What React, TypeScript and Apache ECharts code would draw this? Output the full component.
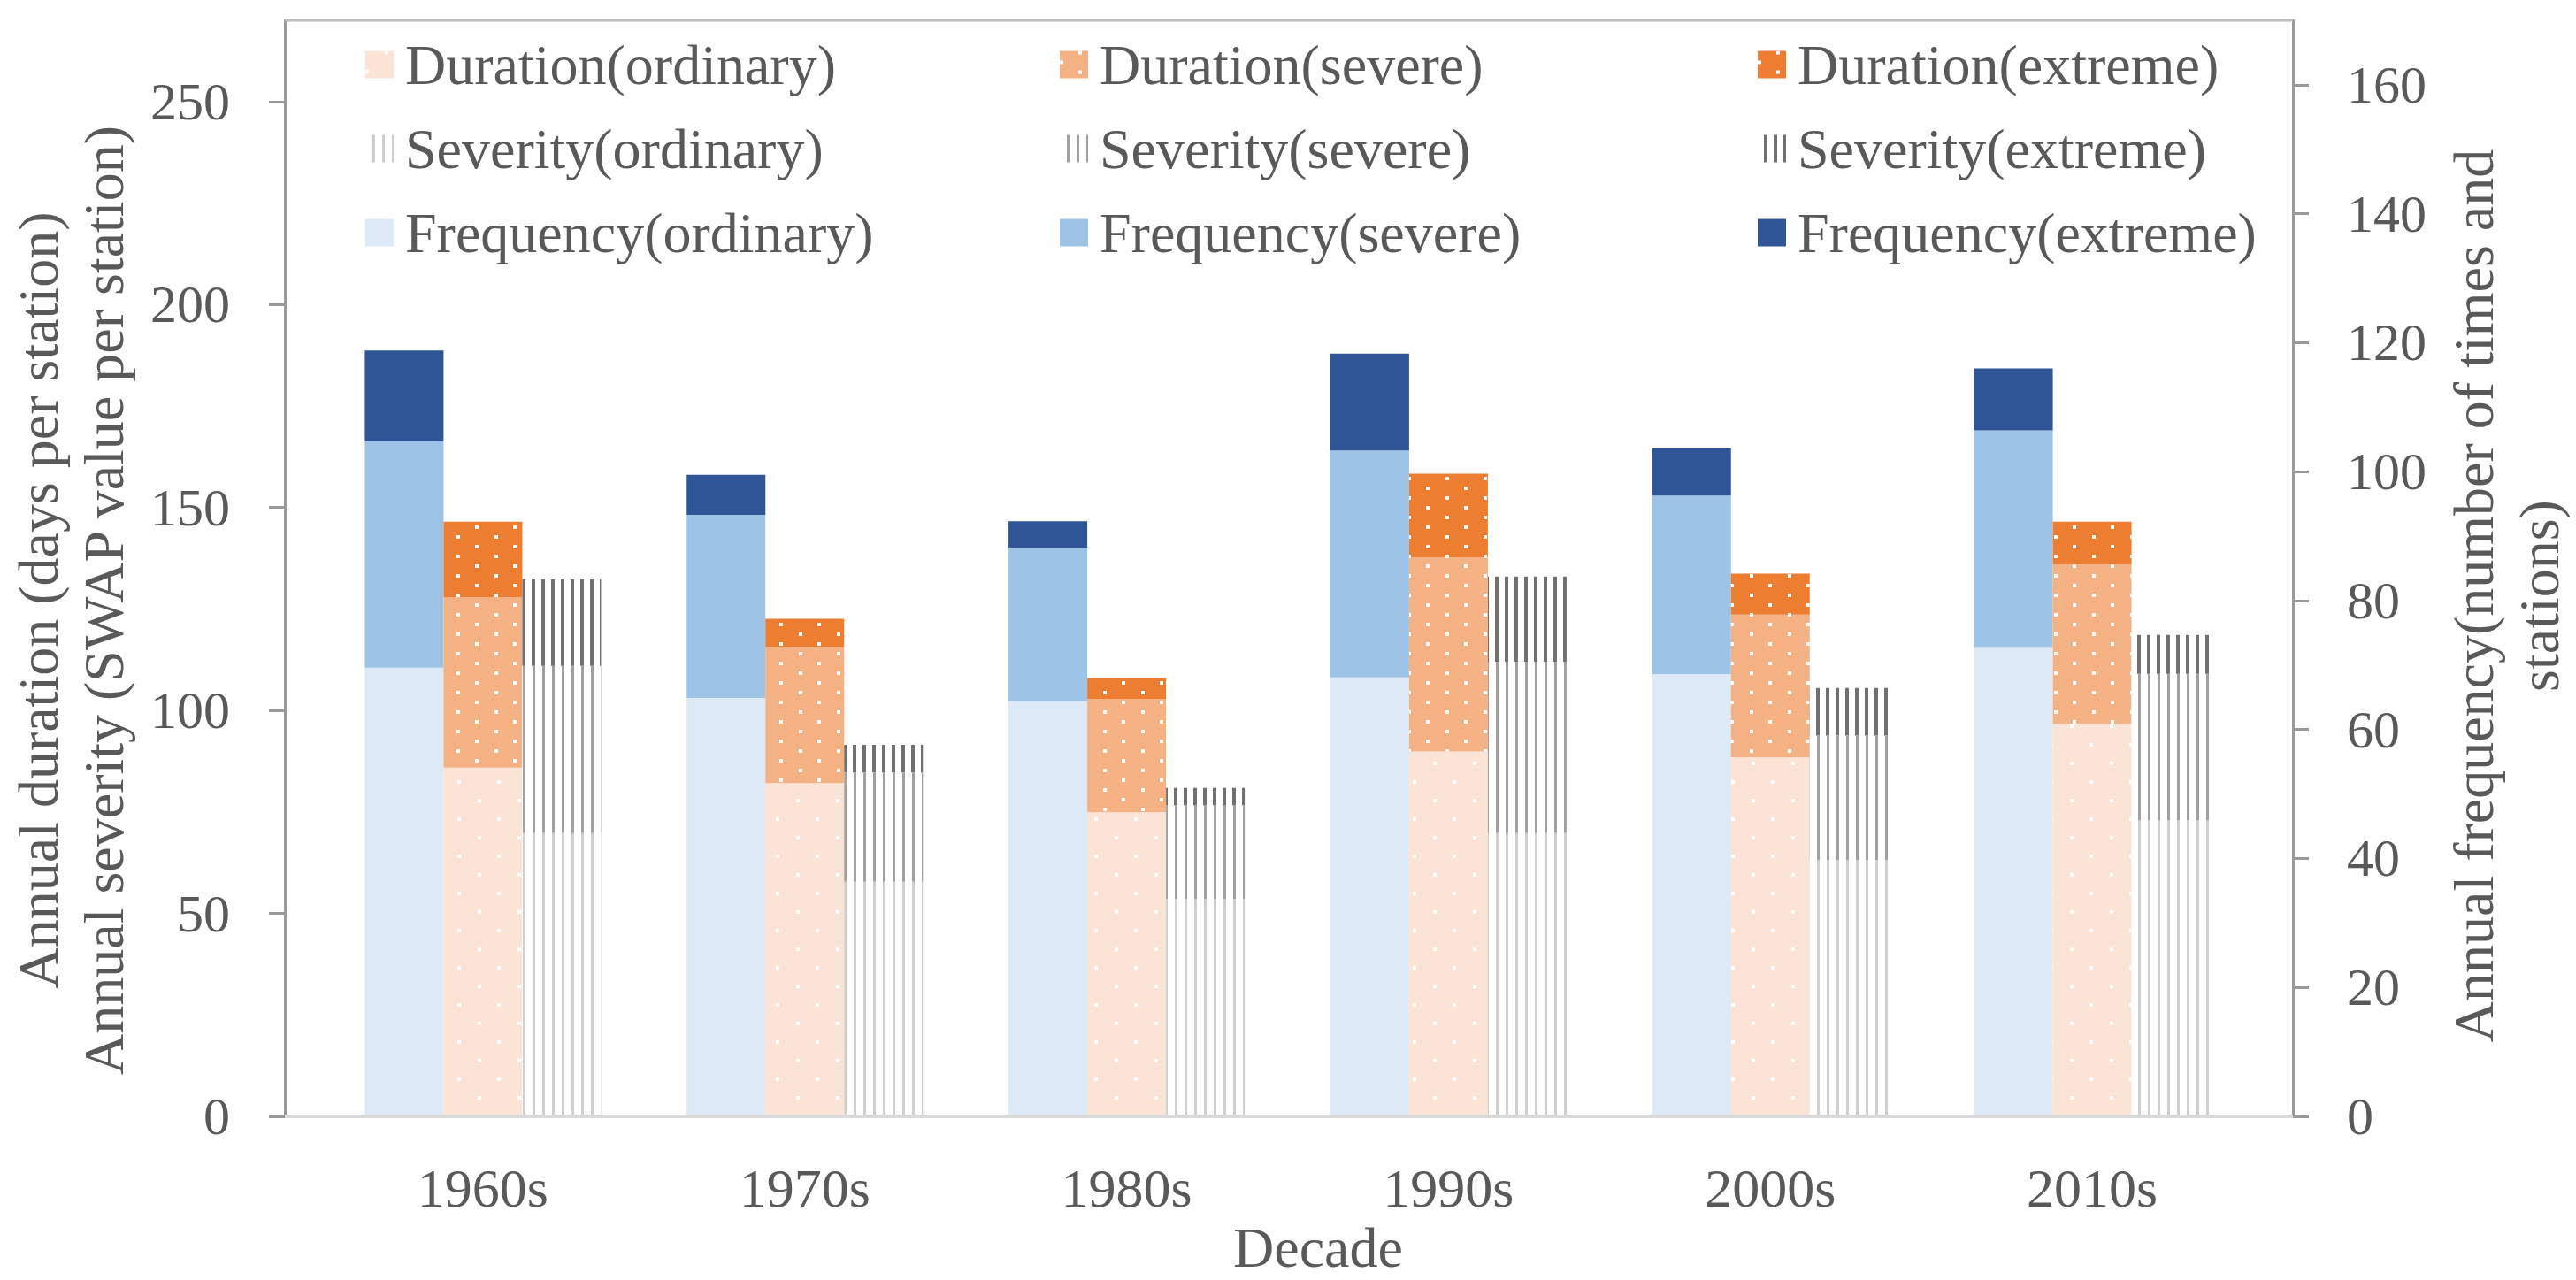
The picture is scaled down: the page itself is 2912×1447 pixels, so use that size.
import React, { useEffect, useRef } from 'react';
import * as echarts from 'echarts';

// ---- data ----
const decades = ['1960s', '1970s', '1980s', '1990s', '2000s', '2010s'];

// Frequency (right axis) – stacked segments
const freqOrdinary = [69.6, 64.9, 64.4, 68.1, 68.6, 72.8];
const freqSevere = [35.1, 28.4, 23.8, 35.2, 27.7, 33.6];
const freqExtreme = [14.1, 6.2, 4.1, 15.0, 7.3, 9.6];

// Duration (left axis) – stacked segments
const durOrdinary = [85.9, 82.1, 74.9, 89.9, 88.4, 96.7];
const durSevere = [42.0, 33.6, 27.9, 47.8, 35.2, 39.2];
const durExtreme = [18.6, 6.9, 5.2, 20.6, 10.1, 10.6];

// Severity (left axis) – stacked segments
const sevOrdinary = [69.8, 57.8, 53.5, 69.8, 63.1, 72.9];
const sevSevere = [41.2, 26.9, 23.1, 42.2, 30.7, 36.1];
const sevExtreme = [21.3, 6.8, 4.3, 21.0, 11.7, 9.6];

const leftTicks = [0, 50, 100, 150, 200, 250];
const rightTicks = [0, 20, 40, 60, 80, 100, 120, 140, 160];

const FONT = "'Liberation Serif', 'DejaVu Serif', serif";
const TXT = '#595959';
const AXIS = '#9a9a9a';

// sparse dots (ordinary) and denser dots (severe / extreme)
const sparseDots = {
  symbol: 'rect',
  symbolSize: 1,
  symbolKeepAspect: false,
  color: '#ffffff',
  dashArrayX: [[4, 41], [0, 22, 4, 19]],
  dashArrayY: [4, 17],
};
const denseDots = {
  symbol: 'rect',
  symbolSize: 1,
  symbolKeepAspect: false,
  color: '#ffffff',
  dashArrayX: [[4, 39], [0, 21, 4, 18]],
  dashArrayY: [4, 7],
};

const lineDecal = (c: string, w: number) => ({
  symbol: 'rect',
  symbolSize: 1,
  symbolKeepAspect: false,
  color: c,
  dashArrayX: [1, 0],
  dashArrayY: [w, 11 - w],
  rotation: Math.PI / 2,
});

function bar(name: string, data: number[], stack: string, yAxisIndex: number, color: string, decal?: any) {
  return {
    name,
    type: 'bar',
    data,
    stack,
    yAxisIndex,
    barWidth: 89,
    barGap: '0%',
    itemStyle: decal ? { color, decal } : { color },
    emphasis: { disabled: true },
  };
}

export default function App() {
  const ref = useRef<HTMLDivElement>(null);

  useEffect(() => {
    if (!ref.current) return;
    const chart = echarts.init(ref.current, undefined, { renderer: 'svg' });

    const legendBase: any = {
      orient: 'vertical',
      top: 41,
      padding: 0,
      itemWidth: 32,
      itemHeight: 31,
      itemGap: 31,
      icon: 'rect',
      selectedMode: false,
      textStyle: { fontFamily: FONT, fontSize: 64, color: TXT, lineHeight: 64, padding: [0, 0, 0, 8] },
    };

    const option: any = {
      animation: false,
      backgroundColor: '#ffffff',
      grid: { left: 364, right: 365, top: 23, bottom: 185, containLabel: false, outerBoundsMode: 'none' },
      legend: [
        { ...legendBase, left: 413, data: ['Duration(ordinary)', 'Severity(ordinary)', 'Frequency(ordinary)'] },
        { ...legendBase, left: 1198, data: ['Duration(severe)', 'Severity(severe)', 'Frequency(severe)'] },
        { ...legendBase, left: 1987, data: ['Duration(extreme)', 'Severity(extreme)', 'Frequency(extreme)'] },
      ],
      xAxis: {
        type: 'category',
        data: decades,
        axisLine: { show: false },
        axisTick: { show: false },
        axisLabel: { fontFamily: FONT, fontSize: 62, color: TXT, margin: 50 },
        name: 'Decade',
        nameLocation: 'middle',
        nameGap: 115,
        nameTextStyle: { fontFamily: FONT, fontSize: 64, color: TXT, padding: [0, 0, 0, 69] },
      },
      yAxis: [
        {
          type: 'value',
          position: 'left',
          min: 0,
          max: 270,
          interval: 50,
          offset: 42,
          splitLine: { show: false },
          axisLine: { show: true, lineStyle: { color: AXIS, width: 3 } },
          axisTick: { show: true, length: 18, customValues: leftTicks, lineStyle: { color: AXIS, width: 3 } },
          axisLabel: { customValues: leftTicks, fontFamily: FONT, fontSize: 60, color: TXT, margin: 62 },
          name: 'Annual duration (days per station)\nAnnual severity (SWAP value per station)',
          nameLocation: 'middle',
          nameRotate: 90,
          nameGap: 168,
          nameTextStyle: { fontFamily: FONT, fontSize: 64, color: TXT, lineHeight: 74, padding: [0, 72, 0, 0] },
        },
        {
          type: 'value',
          position: 'right',
          min: 0,
          max: 170,
          interval: 20,
          offset: 45,
          splitLine: { show: false },
          axisLine: { show: true, lineStyle: { color: AXIS, width: 3 } },
          axisTick: { show: true, length: 18, customValues: rightTicks, lineStyle: { color: AXIS, width: 3 } },
          axisLabel: { customValues: rightTicks, fontFamily: FONT, fontSize: 60, color: TXT, margin: 61 },
          name: 'Annual frequency(number of times and\nstations)',
          nameLocation: 'middle',
          nameRotate: 90,
          nameGap: 167,
          nameTextStyle: { fontFamily: FONT, fontSize: 64, color: TXT, lineHeight: 74, align: 'center', padding: [0, 62, 0, 0] },
        },
      ],
      graphic: [
        { type: 'line', z: 100, shape: { x1: 322, y1: 23, x2: 2592, y2: 23 }, style: { stroke: '#bcbcbc', lineWidth: 3 } },
        { type: 'line', z: 100, shape: { x1: 322, y1: 1262, x2: 2592, y2: 1262 }, style: { stroke: '#d9d9d9', lineWidth: 4 } },
      ],
      series: [
        bar('Frequency(ordinary)', freqOrdinary, 'freq', 1, '#dde9f6'),
        bar('Frequency(severe)', freqSevere, 'freq', 1, '#9dc3e6'),
        bar('Frequency(extreme)', freqExtreme, 'freq', 1, '#2f5597'),
        bar('Duration(ordinary)', durOrdinary, 'dur', 0, '#fbe4d5', sparseDots),
        bar('Duration(severe)', durSevere, 'dur', 0, '#f4b183', denseDots),
        bar('Duration(extreme)', durExtreme, 'dur', 0, '#ed7d31', denseDots),
        bar('Severity(ordinary)', sevOrdinary, 'sev', 0, '#ffffff', lineDecal('#cfcfcf', 3)),
        bar('Severity(severe)', sevSevere, 'sev', 0, '#ffffff', lineDecal('#a0a0a0', 3)),
        bar('Severity(extreme)', sevExtreme, 'sev', 0, '#ffffff', lineDecal('#707070', 4)),
      ],
    };

    chart.setOption(option);
    return () => chart.dispose();
  }, []);

  return <div ref={ref} style={{ position: 'absolute', left: 0, top: 0, width: 2912, height: 1447 }} />;
}
